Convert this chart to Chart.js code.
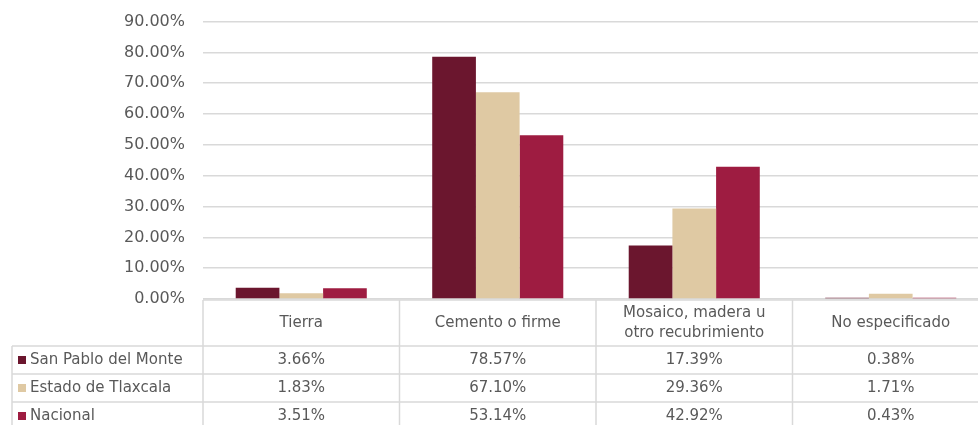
<!DOCTYPE html>
<html>
<head>
<meta charset="utf-8">
<script src="https://cdn.jsdelivr.net/npm/chart.js@4"></script>
<style>
  html, body { margin: 0; padding: 0; background: #fff; overflow: hidden; }
  #marco { position: relative; width: 978px; height: 425px; overflow: hidden; }
  #wrap { position: absolute; left: 0; top: -6px; width: 989px; height: 431px; }
</style>
</head>
<body>
<div id="marco"><div id="wrap"><canvas id="grafica"></canvas></div></div>
<script>
const categorias = ['Tierra', 'Cemento o firme', ['Mosaico, madera u', 'otro recubrimiento'], 'No especificado']
const sanPablo = [3.66, 78.57, 17.39, 0.38]
const tlaxcala = [1.83, 67.10, 29.36, 1.71]
const nacional = [3.51, 53.14, 42.92, 0.43]
const series = ['San Pablo del Monte', 'Estado de Tlaxcala', 'Nacional']
const colores = ['#6b162e', '#dfc9a3', '#9e1c41']

const fuente = '"DejaVu Sans", sans-serif'
const gris = '#595959'
const linea = '#d9d9d9'

const tablaPlugin = {
  id: 'tabla',
  afterDraw (chart) {
    const { ctx, chartArea, scales: { x } } = chart
    const top = chartArea.bottom + 1
    const headerH = 46
    const rowH = 28
    const left = 12
    const colW = (chartArea.right - chartArea.left) / categorias.length
    const right = chartArea.right - 1
    const filas = [sanPablo, tlaxcala, nacional]
    const bottom = top + headerH + rowH * filas.length

    ctx.save()
    ctx.strokeStyle = linea
    ctx.lineWidth = 1.5
    ctx.beginPath()
    // lineas horizontales
    ctx.moveTo(chartArea.left, top); ctx.lineTo(right, top)
    for (let r = 0; r <= filas.length; r++) {
      const y = top + headerH + r * rowH
      ctx.moveTo(left, y); ctx.lineTo(right, y)
    }
    // lineas verticales
    ctx.moveTo(left, top + headerH); ctx.lineTo(left, bottom)
    for (let c = 0; c <= categorias.length; c++) {
      const xx = Math.min(chartArea.left + c * colW, right)
      ctx.moveTo(xx, top); ctx.lineTo(xx, bottom)
    }
    ctx.stroke()

    ctx.fillStyle = gris
    ctx.font = '15px ' + fuente
    ctx.textAlign = 'center'
    ctx.textBaseline = 'middle'
    categorias.forEach((cat, i) => {
      const cx = x.getPixelForValue(i)
      if (Array.isArray(cat)) {
        ctx.fillText(cat[0], cx, top + 13)
        ctx.fillText(cat[1], cx, top + 33)
      } else {
        ctx.fillText(cat, cx, top + headerH / 2)
      }
    })

    filas.forEach((fila, r) => {
      const cy = top + headerH + r * rowH + rowH / 2
      ctx.fillStyle = colores[r]
      ctx.fillRect(left + 6, cy - 4, 8, 8)
      ctx.fillStyle = gris
      ctx.textAlign = 'left'
      ctx.fillText(series[r], left + 18, cy)
      ctx.textAlign = 'center'
      fila.forEach((v, i) => {
        ctx.fillText(v.toFixed(2) + '%', x.getPixelForValue(i), cy)
      })
    })
    ctx.restore()
  }
}

new Chart(
  document.getElementById('grafica'),
  {
    type: 'bar',
    data: {
      labels: categorias,
      datasets: [
        { label: series[0], backgroundColor: colores[0], data: sanPablo },
        { label: series[1], backgroundColor: colores[1], data: tlaxcala },
        { label: series[2], backgroundColor: colores[2], data: nacional }
      ]
    },
    options: {
      responsive: true,
      maintainAspectRatio: false,
      animation: false,
      layout: { padding: { top: 12, right: 0, bottom: 126, left: 0 } },
      datasets: { bar: { categoryPercentage: 0.667, barPercentage: 1 } },
      plugins: { legend: { display: false }, tooltip: { enabled: false } },
      scales: {
        x: { display: false },
        y: {
          min: 0,
          max: 90,
          border: { display: false },
          grid: { color: linea, lineWidth: 1.5, drawTicks: false },
          ticks: {
            stepSize: 10,
            padding: 18,
            color: gris,
            font: { family: fuente, size: 16 },
            callback: v => v.toFixed(2) + '%'
          },
          afterFit (scale) { scale.width = 203 }
        }
      }
    },
    plugins: [tablaPlugin]
  }
)
</script>
</body>
</html>
